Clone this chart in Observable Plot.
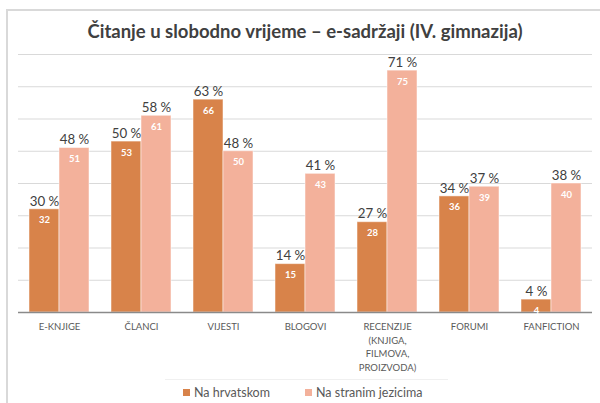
<!DOCTYPE html>
<html>
<head>
<meta charset="utf-8">
<script src="https://cdn.jsdelivr.net/npm/d3@7"></script>
<script src="https://cdn.jsdelivr.net/npm/@observablehq/plot@0.6"></script>
<style>
  html, body { margin: 0; padding: 0; background: #fff; }
  body { width: 600px; height: 403px; position: relative; overflow: hidden; font-family: Lato, "Open Sans", sans-serif; }
  #frame { position: absolute; left: 6px; top: 9px; width: 620px; height: 420px; border-left: 2px solid #d9d9d9; border-top: 2px solid #d9d9d9; box-sizing: border-box; }
  #title { position: absolute; left: 0; width: 610px; top: 20px; text-align: center; font-size: 18.5px; font-weight: 700; color: #404040; }
  #chart { position: absolute; left: 0; top: 0; }
  #legend { position: absolute; left: 165px; top: 379px; width: 283px; height: 24px; border-top: 1px solid #f0f0f0; box-sizing: border-box; font-size: 12.5px; color: #595959; }
  .item { position: absolute; top: 5px; display: flex; align-items: center; white-space: nowrap; }
  .sw { width: 7px; height: 7px; margin-right: 4px; display: inline-block; }
</style>
</head>
<body>
<div id="frame"></div>
<div id="title">Čitanje u slobodno vrijeme – e-sadržaji (IV. gimnazija)</div>
<div id="chart"></div>
<div id="legend"></div>
<script>
const categories = ["E-KNJIGE", "ČLANCI", "VIJESTI", "BLOGOVI", "RECENZIJE\n(KNJIGA,\nFILMOVA,\nPROIZVODA)", "FORUMI", "FANFICTION"];
const seriesNames = ["Na hrvatskom", "Na stranim jezicima"];
const seriesColors = ["#d8834a", "#f3b19b"];
const hrCounts = [32, 53, 66, 15, 28, 36, 4];
const hrPercents = [30, 50, 63, 14, 27, 34, 4];
const foreignCounts = [51, 61, 50, 43, 75, 39, 40];
const foreignPercents = [48, 58, 48, 41, 71, 37, 38];
const gridTicks = [10, 20, 30, 40, 50, 60, 70, 80];

const rows = categories.flatMap((c, i) => [
  {cat: c, series: seriesNames[0], count: hrCounts[i], pct: hrPercents[i]},
  {cat: c, series: seriesNames[1], count: foreignCounts[i], pct: foreignPercents[i]}
]);

const plot = Plot.plot({
  width: 600,
  height: 403,
  marginTop: 54,
  marginBottom: 91,
  marginLeft: 17,
  marginRight: 7,
  style: {background: "none", fontFamily: "Lato, 'Open Sans', sans-serif"},
  fx: {domain: categories, padding: 0, axis: null, label: null},
  x: {domain: seriesNames, paddingInner: 0, paddingOuter: 0.333, axis: null, label: null},
  y: {domain: [0, 80], axis: null},
  color: {domain: seriesNames, range: seriesColors},
  marks: [
    Plot.ruleY(gridTicks, {stroke: "#d9d9d9", strokeWidth: 1}),
    Plot.barY(rows, {fx: "cat", x: "series", y: "count", fill: "series", stroke: "white", strokeOpacity: 0.5, strokeWidth: 1}),
    Plot.ruleY([0], {stroke: "#8a8a8a", strokeWidth: 1.3}),
    Plot.text(rows, {fx: "cat", x: "series", y: "count", text: d => d.pct + " %", dy: -8, fontSize: 13.3, fill: "#404040"}),
    Plot.text(rows, {fx: "cat", x: "series", y: "count", text: d => String(d.count), dy: 11, fontSize: 9.5, fontWeight: "bold", fill: "white"}),
    Plot.text(categories, {fx: d => d, text: d => d, frameAnchor: "bottom", lineAnchor: "top", dy: 8, fontSize: 9.5, lineHeight: 1.42, fill: "#595959"})
  ]
});
document.getElementById("chart").appendChild(plot);

const legend = document.getElementById("legend");
const legendLeft = [18, 140];
seriesNames.forEach((name, i) => {
  const item = document.createElement("div");
  item.className = "item";
  item.style.left = legendLeft[i] + "px";
  const sw = document.createElement("span");
  sw.className = "sw";
  sw.style.background = seriesColors[i];
  item.appendChild(sw);
  item.appendChild(document.createTextNode(name));
  legend.appendChild(item);
});
</script>
</body>
</html>
